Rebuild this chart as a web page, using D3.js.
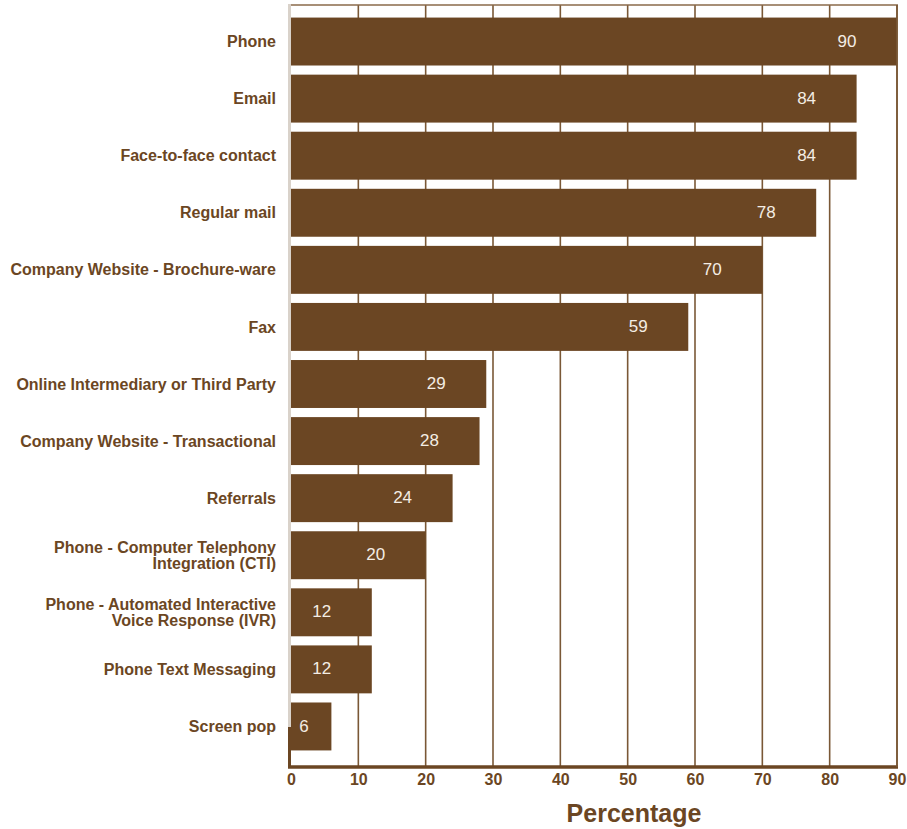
<!DOCTYPE html>
<html>
<head>
<meta charset="utf-8">
<script src="https://cdn.jsdelivr.net/npm/d3@7"></script>
<style>
  html, body { margin: 0; padding: 0; background: #fff; }
  svg { display: block; font-family: "Liberation Sans", Arial, sans-serif; }
</style>
</head>
<body>
<svg id="chart" width="907" height="829"></svg>
<script>
// Communication channels and the share of respondents using each (percent)
const categories = [
  "Phone",
  "Email",
  "Face-to-face contact",
  "Regular mail",
  "Company Website - Brochure-ware",
  "Fax",
  "Online Intermediary or Third Party",
  "Company Website - Transactional",
  "Referrals",
  "Phone - Computer Telephony|Integration (CTI)",
  "Phone - Automated Interactive|Voice Response (IVR)",
  "Phone Text Messaging",
  "Screen pop"
];
const values = [90, 84, 84, 78, 70, 59, 29, 28, 24, 20, 12, 12, 6];
const tickValues = [0, 10, 20, 30, 40, 50, 60, 70, 80, 90];
const axisTitle = "Percentage";

const brown = "#6b4623";
const svg = d3.select("#chart");

const plotLeft = 291, plotRight = 897, plotTop = 5, plotBottom = 767;

const x = d3.scaleLinear().domain([0, 90]).range([plotLeft, plotRight]);
const y = d3.scaleBand()
  .domain(categories)
  .range([13, 755])
  .paddingInner(0.16)
  .paddingOuter(0.08);

// Vertical gridlines
svg.append("g")
  .selectAll("line")
  .data(tickValues.filter(d => d > 0))
  .join("line")
  .attr("x1", d => x(d)).attr("x2", d => x(d))
  .attr("y1", plotTop).attr("y2", plotBottom)
  .attr("stroke", "#7a5836")
  .attr("stroke-width", 1.6);

// Top frame line
svg.append("line")
  .attr("x1", plotLeft - 2).attr("x2", plotRight + 1)
  .attr("y1", plotTop).attr("y2", plotTop)
  .attr("stroke", "#8a6a4a")
  .attr("stroke-width", 1.6);

// Left spine (light)
svg.append("line")
  .attr("x1", plotLeft - 1.5).attr("x2", plotLeft - 1.5)
  .attr("y1", plotTop - 1).attr("y2", plotBottom)
  .attr("stroke", "#d9d2ca")
  .attr("stroke-width", 3);

// Bars
svg.append("g")
  .selectAll("rect")
  .data(values)
  .join("rect")
  .attr("x", x(0))
  .attr("y", (d, i) => y(categories[i]))
  .attr("width", d => x(d) - x(0))
  .attr("height", y.bandwidth())
  .attr("fill", brown);

// Bar value labels
svg.append("g")
  .selectAll("text")
  .data(values)
  .join("text")
  .attr("x", d => Math.max(x(d) - 50, x(0) + 13))
  .attr("y", (d, i) => y(categories[i]) + y.bandwidth() / 2)
  .attr("dy", "0.3em")
  .attr("text-anchor", "middle")
  .attr("fill", "#f4ede4")
  .attr("font-size", 17)
  .text(d => d);

// Category labels (multi-line where split by "|")
const cat = svg.append("g")
  .selectAll("text")
  .data(categories)
  .join("text")
  .attr("text-anchor", "end")
  .attr("fill", brown)
  .attr("font-size", 16)
  .attr("font-weight", "bold");
cat.each(function(d) {
  const lines = d.split("|");
  const cy = y(d) + y.bandwidth() / 2;
  const lh = 16;
  const t = d3.select(this);
  lines.forEach((ln, k) => {
    t.append("tspan")
      .attr("x", 276)
      .attr("y", cy + (k - (lines.length - 1) / 2) * lh)
      .attr("dy", "0.35em")
      .text(ln);
  });
});

// Bottom axis line
svg.append("line")
  .attr("x1", plotLeft - 3).attr("x2", plotRight + 1)
  .attr("y1", plotBottom).attr("y2", plotBottom)
  .attr("stroke", brown)
  .attr("stroke-width", 3.5);
svg.append("line")
  .attr("x1", plotLeft - 1.5).attr("x2", plotLeft - 1.5)
  .attr("y1", plotBottom - 40).attr("y2", plotBottom)
  .attr("stroke", brown)
  .attr("stroke-width", 3);

// Right frame line
svg.append("line")
  .attr("x1", plotRight).attr("x2", plotRight)
  .attr("y1", plotTop).attr("y2", plotBottom)
  .attr("stroke", "#7a5836")
  .attr("stroke-width", 1.6);

// Tick labels
const axis = d3.axisBottom(x).tickValues(tickValues).tickSize(0).tickPadding(0);
const axG = svg.append("g")
  .attr("transform", `translate(0,${plotBottom + 4})`)
  .call(axis);
axG.select(".domain").remove();
axG.selectAll("text")
  .attr("fill", brown)
  .attr("font-size", 16)
  .attr("font-weight", "bold")
  .attr("font-family", "'Liberation Sans', Arial, sans-serif")
  .attr("dy", "0.9em");

// Axis title
svg.append("text")
  .attr("x", 634)
  .attr("y", 822)
  .attr("text-anchor", "middle")
  .attr("fill", brown)
  .attr("font-size", 25)
  .attr("font-weight", "bold")
  .text(axisTitle);
</script>
</body>
</html>
